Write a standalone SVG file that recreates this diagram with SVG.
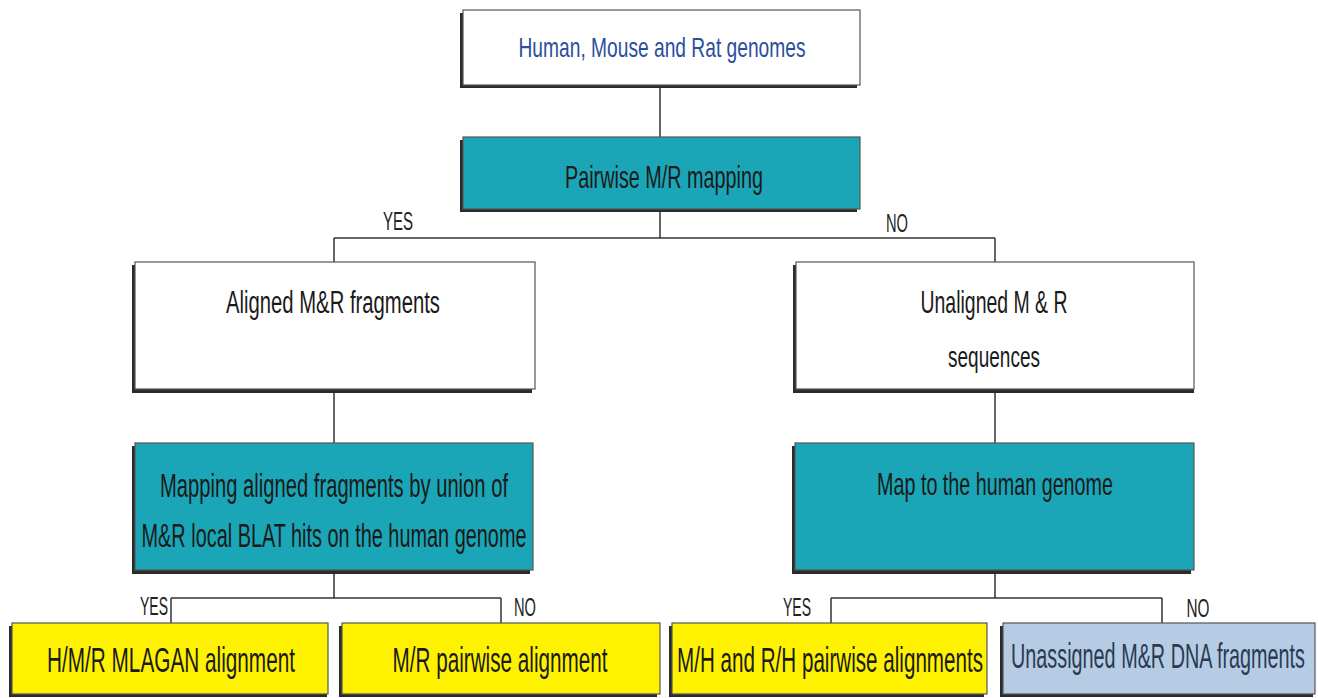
<svg xmlns="http://www.w3.org/2000/svg" width="1318" height="698" viewBox="0 0 1318 698">
<style>
.sh{fill:#2b2b2b}
.bx{stroke:#555;stroke-width:1.2}
.w{fill:#ffffff}
.t{fill:#1aa6b6}
.y{fill:#fff200}
.b{fill:#b5cce4}
.tx{font-family:"Liberation Sans",Arial,sans-serif;font-size:20px;fill:#1a1a1a;text-anchor:middle}
.lb{font-family:"Liberation Sans",Arial,sans-serif;font-size:15px;fill:#222;text-anchor:middle}
.c{fill:none;stroke:#333;stroke-width:1.5}
</style>
<g id="connectors">
<path class="c" d="M660 88V137"/>
<path class="c" d="M660 212V238M334 238H995M334 238V262M995 238V262"/>
<path class="c" d="M334 392V443"/>
<path class="c" d="M995 392V443"/>
<path class="c" d="M334 573V598M171 598H501M171 598V623M501 598V623"/>
<path class="c" d="M995 573V598M831 598H1162M831 598V623M1162 598V623"/>
<text class="lb" transform="translate(398,230) scale(1,1.75)" textLength="30" lengthAdjust="spacingAndGlyphs">YES</text>
<text class="lb" transform="translate(897,232) scale(1,1.75)" textLength="22" lengthAdjust="spacingAndGlyphs">NO</text>
<text class="lb" transform="translate(154,615) scale(1,1.75)" textLength="28" lengthAdjust="spacingAndGlyphs">YES</text>
<text class="lb" transform="translate(525,616) scale(1,1.75)" textLength="22" lengthAdjust="spacingAndGlyphs">NO</text>
<text class="lb" transform="translate(797,616) scale(1,1.75)" textLength="28" lengthAdjust="spacingAndGlyphs">YES</text>
<text class="lb" transform="translate(1198,617) scale(1,1.75)" textLength="23" lengthAdjust="spacingAndGlyphs">NO</text>
</g>
<g id="n1">
<rect class="sh" x="460" y="13" width="397" height="75"/>
<rect class="bx w" x="463" y="10" width="397" height="75"/>
<text class="tx" transform="translate(662,57) scale(1,1.45)" style="fill:#2a4f9e;font-size:19.2px" textLength="287" lengthAdjust="spacingAndGlyphs">Human, Mouse and Rat genomes</text>
</g>
<g id="n2">
<rect class="sh" x="460" y="140" width="397" height="72"/>
<rect class="bx t" x="463" y="137" width="397" height="72"/>
<text class="tx" transform="translate(664,188) scale(1,1.62)" style="font-size:19.8px" textLength="198" lengthAdjust="spacingAndGlyphs">Pairwise M/R mapping</text>
</g>
<g id="n3">
<rect class="sh" x="132" y="265" width="400" height="128"/>
<rect class="bx w" x="135" y="262" width="400" height="127"/>
<text class="tx" transform="translate(333,313) scale(1,1.58)" style="font-size:20.3px" textLength="214" lengthAdjust="spacingAndGlyphs">Aligned M&amp;R fragments</text>
</g>
<g id="n4">
<rect class="sh" x="793" y="265" width="401" height="128"/>
<rect class="bx w" x="796" y="262" width="398" height="127"/>
<text class="tx" transform="translate(994,313) scale(1,1.64)" style="font-size:19.4px" textLength="147" lengthAdjust="spacingAndGlyphs">Unaligned M &amp; R</text>
<text class="tx" transform="translate(994,367) scale(1,1.6)" style="font-size:19px" textLength="92" lengthAdjust="spacingAndGlyphs">sequences</text>
</g>
<g id="n5">
<rect class="sh" x="132" y="446" width="398" height="128"/>
<rect class="bx t" x="135" y="443" width="398" height="127"/>
<text class="tx" transform="translate(334,497) scale(1,1.66)" style="font-size:20.2px" textLength="348" lengthAdjust="spacingAndGlyphs">Mapping aligned fragments by union of</text>
<text class="tx" transform="translate(334,547) scale(1,1.69)" style="font-size:19.8px" textLength="385" lengthAdjust="spacingAndGlyphs">M&amp;R local BLAT hits on the human genome</text>
</g>
<g id="n6">
<rect class="sh" x="792" y="446" width="399" height="128"/>
<rect class="bx t" x="795" y="443" width="399" height="127"/>
<text class="tx" transform="translate(995,495) scale(1,1.56)" style="font-size:19.75px" textLength="236" lengthAdjust="spacingAndGlyphs">Map to the human genome</text>
</g>
<g id="n7">
<rect class="sh" x="9" y="626" width="318" height="71"/>
<rect class="bx y" x="12" y="623" width="316" height="71"/>
<text class="tx" transform="translate(171,672) scale(1,1.68)" style="font-size:20.7px" textLength="248" lengthAdjust="spacingAndGlyphs">H/M/R MLAGAN alignment</text>
</g>
<g id="n8">
<rect class="sh" x="339" y="626" width="318" height="71"/>
<rect class="bx y" x="342" y="623" width="318" height="71"/>
<text class="tx" transform="translate(500,672) scale(1,1.68)" style="font-size:20.7px" textLength="215" lengthAdjust="spacingAndGlyphs">M/R pairwise alignment</text>
</g>
<g id="n9">
<rect class="sh" x="669" y="626" width="315" height="71"/>
<rect class="bx y" x="672" y="623" width="315" height="71"/>
<text class="tx" transform="translate(830,672) scale(1,1.69)" style="font-size:20.6px" textLength="306" lengthAdjust="spacingAndGlyphs">M/H and R/H pairwise alignments</text>
</g>
<g id="n10">
<rect class="sh" x="1000" y="626" width="313" height="71"/>
<rect class="bx b" x="1003" y="623" width="312" height="71"/>
<text class="tx" transform="translate(1158,668) scale(1,1.77)" style="font-size:19.7px;fill:#2b3a52" textLength="294" lengthAdjust="spacingAndGlyphs">Unassigned M&amp;R DNA fragments</text>
</g>
</svg>
